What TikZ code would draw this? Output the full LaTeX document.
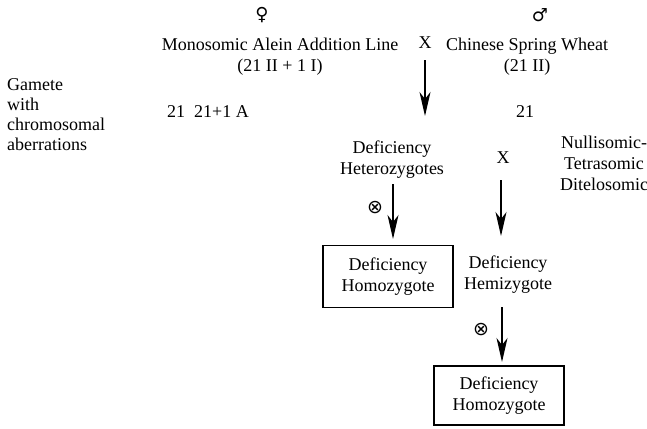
\documentclass[tikz,border=0pt]{standalone}
\usepackage{fontspec}
\setmainfont{Liberation Serif}
\newfontfamily\symfont{DejaVu Sans}
\usetikzlibrary{arrows.meta}
\begin{document}
\begin{tikzpicture}[x=1pt,y=-1pt,
  every node/.style={inner sep=0pt,font=\fontsize{18}{21}\selectfont},
  lbl/.style={align=center},
  sexsym/.style={font=\symfont\fontsize{18}{18}\selectfont},
  selfsym/.style={font=\symfont\fontsize{19}{19}\selectfont},
  resultbox/.style={draw,line width=1.6pt,minimum width=130pt,align=center},
  arr/.style={line width=1.4pt,-{Stealth[length=24pt,width=11pt,inset=7pt]}}]
\useasboundingbox (0,0) rectangle (647,428);

% parents
\node[sexsym] (fem) at (262,15) {♀};
\node[sexsym] (mal) at (540,15) {♂};
\node[lbl] (mono) at (280,57) {Monosomic Alein Addition Line\\(21 II + 1 I)};
\node (cross1) at (425,43) {X};
\node[lbl] (csw) at (527,57) {Chinese Spring Wheat\\(21 II)};

% gametes
\node[align=left,anchor=north west,font=\fontsize{18}{20}\selectfont] (gam) at (7,78)
  {Gamete\\with\\chromosomal\\aberrations};
\node[anchor=west] (gfem) at (167,112) {21\ \ 21+1 A};
\node (gmal) at (525,112) {21};

% first cross
\coordinate (a1s) at (425,60);
\coordinate (a1e) at (425,116);
\draw[arr] (a1s) -- (a1e);

\node[lbl] (het) at (392,160) {Deficiency\\Heterozygotes};
\node (cross2) at (503,158) {X};
\node[lbl] (nts) at (604,163) {Nullisomic-\\Tetrasomic\\Ditelosomic};

% selfing of heterozygotes
\node[resultbox,minimum height=62pt] (homo1) at (388,276.5) {Deficiency\\Homozygote};
\node[selfsym] (self1) at (375,208) {⊗};
\coordinate (a2s) at (393,184);
\coordinate (a2e) at (393,239);
\draw[arr] (a2s) -- (a2e);

% hemizygote branch
\coordinate (a3s) at (501,180);
\coordinate (a3e) at (501,236);
\draw[arr] (a3s) -- (a3e);
\node[lbl] (hemi) at (508,275) {Deficiency\\Hemizygote};

% selfing of hemizygote
\node[selfsym] (self2) at (481,330) {⊗};
\node[resultbox,minimum height=59pt] (homo2) at (499,395.5) {Deficiency\\Homozygote};
\coordinate (a4s) at (502,307);
\coordinate (a4e) at (502,362);
\draw[arr] (a4s) -- (a4e);
\end{tikzpicture}
\end{document}
